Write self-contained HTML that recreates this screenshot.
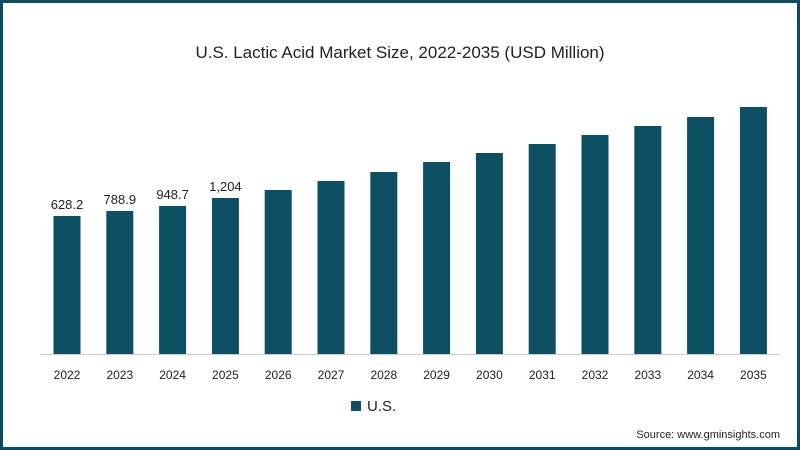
<!DOCTYPE html>
<html><head><meta charset="utf-8"><style>
body{margin:0;width:800px;height:450px;overflow:hidden;background:#fff;font-family:"Liberation Sans",sans-serif}
#frame{position:absolute;left:0;top:0;width:794px;height:444px;border:3px solid #0d4a5a;background:#fff}
</style></head><body>
<div id="frame"></div>
<svg id="chart" width="800" height="450" style="position:absolute;left:0;top:0">
<text x="400" y="58" text-anchor="middle" font-size="17" fill="#222">U.S. Lactic Acid Market Size, 2022-2035 (USD Million)</text>
<line x1="40" y1="354.5" x2="780" y2="354.5" stroke="#ccc"/>
<rect x="351" y="401" width="10" height="10" fill="#0d4f63"/>
<text x="367" y="411" font-size="15" fill="#222">U.S.</text>
<text x="780" y="438" text-anchor="end" font-size="11" fill="#222">Source: www.gminsights.com</text>
<g id="bars"></g>
</svg>
<script>
const categories=["2022","2023","2024","2025","2026","2027","2028","2029","2030","2031","2032","2033","2034","2035"];
const values=[628.2,788.9,948.7,1204,1459,1747,2035,2355,2643,2931,3219,3507,3795,4115];
const labels=["628.2","788.9","948.7","1,204","","","","","","","","","",""];
const vmin=-3789, baseY=354, k=0.03125;
function yScale(v){return baseY-(v-vmin)*k;}
function xScale(i){return 67+i*52.8;}
const g=document.getElementById('bars');
const NS="http://www.w3.org/2000/svg";
categories.forEach((c,i)=>{
  const x=xScale(i), y=yScale(values[i]);
  const r=document.createElementNS(NS,'rect');
  r.setAttribute('x',x-13.5);r.setAttribute('y',y);r.setAttribute('width',27);r.setAttribute('height',baseY-y);r.setAttribute('fill','#0d4f63');
  
  
  g.appendChild(r);
  const t=document.createElementNS(NS,'text');
  t.setAttribute('x',x);t.setAttribute('y',379);t.setAttribute('text-anchor','middle');t.setAttribute('font-size','12');t.setAttribute('fill','#222');
  t.textContent=c;
  
  
  g.appendChild(t);
  if(labels[i]){
    const l=document.createElementNS(NS,'text');
    l.setAttribute('x',x);l.setAttribute('y',y-7);l.setAttribute('text-anchor','middle');l.setAttribute('font-size','13');l.setAttribute('fill','#222');
    l.textContent=labels[i];
    
    
    g.appendChild(l);
  }
});
</script>
</body></html>
